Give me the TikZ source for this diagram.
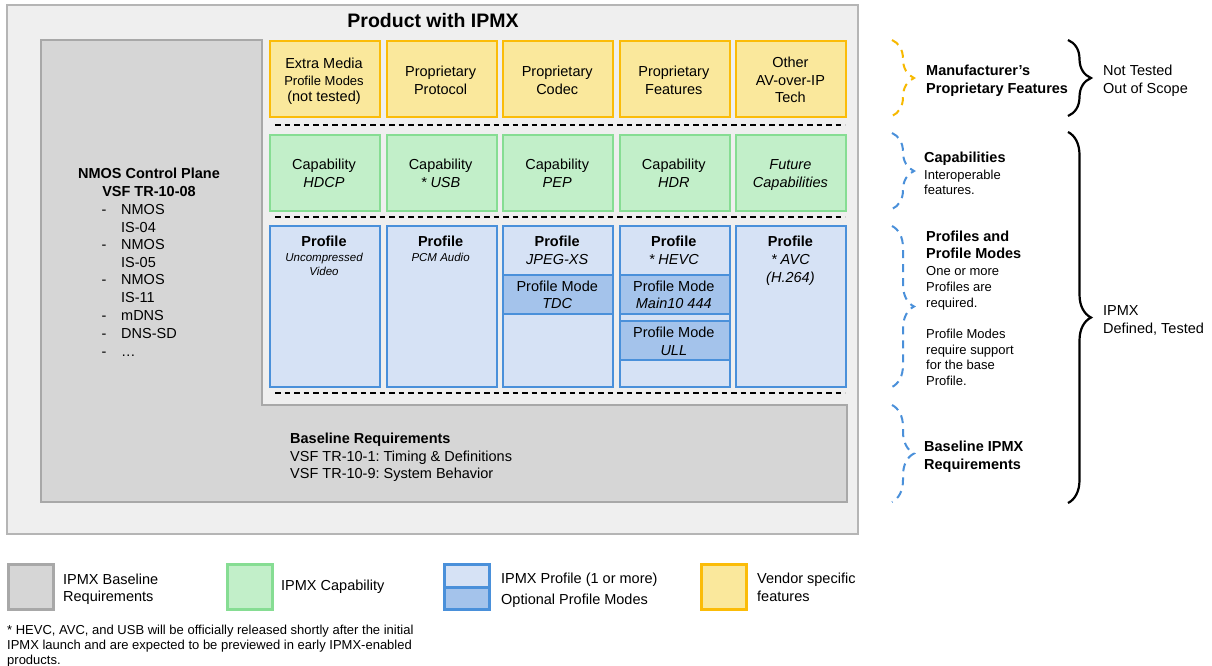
\documentclass[tikz,border=0pt]{standalone}
\usepackage{fontspec}
\setmainfont{Liberation Sans}
\usetikzlibrary{decorations.pathreplacing}
\newcommand\fsz[2]{\fontsize{#1}{#2}\selectfont}
\definecolor{outerfill}{HTML}{EFEFEF}
\definecolor{outeredge}{HTML}{B5B5B5}
\definecolor{basefill}{HTML}{D6D6D6}
\definecolor{baseedge}{HTML}{A8A8A8}
\definecolor{vendfill}{HTML}{FAE89C}
\definecolor{vendedge}{HTML}{FBBC08}
\definecolor{capfill}{HTML}{C2EFC9}
\definecolor{capedge}{HTML}{86DD93}
\definecolor{proffill}{HTML}{D6E2F5}
\definecolor{profedge}{HTML}{4A90DA}
\definecolor{modefill}{HTML}{A4C3EB}
\definecolor{bracegold}{HTML}{F7B900}
\definecolor{braceblue}{HTML}{4A90DA}
\frenchspacing
\begin{document}
\begin{tikzpicture}[x=1pt,y=-1pt,
  font=\fsz{14.5}{17.5},
  t/.style={anchor=mid,inner sep=0pt,yshift=-3.5pt},
  tl/.style={anchor=mid west,inner sep=0pt,yshift=-3.5pt},
  bt/.style={t,font=\fsz{14.5}{17.5}\bfseries},
  it/.style={t,font=\fsz{14.5}{17.5}\itshape},
  small/.style={t,font=\fsz{11.5}{14}\itshape},
  head/.style={tl,font=\fsz{14.5}{17.5}\bfseries},
  desc/.style={tl,font=\fsz{13}{15}},
  cell/.style={draw,line width=2pt,anchor=north west,inner sep=0pt,minimum width=110pt},
  vendor/.style={cell,fill=vendfill,draw=vendedge,minimum height=76pt},
  capab/.style={cell,fill=capfill,draw=capedge,minimum height=76pt},
  profile/.style={cell,fill=proffill,draw=profedge,minimum height=161pt},
  pmode/.style={cell,fill=modefill,draw=profedge,minimum height=39pt},
  sep/.style={line width=1.8pt,dash pattern=on 5.5pt off 4pt},
  dbrace/.style={line width=2pt,dash pattern=on 8pt off 6pt,decorate,decoration={brace,amplitude=22pt}},
  kbrace/.style={line width=2.2pt,decorate,decoration={brace,amplitude=23pt}},
  legbox/.style={draw,line width=2.5pt,anchor=north west,inner sep=0pt,minimum width=45pt,minimum height=45pt},
]
\fill[white] (0,0) rectangle (1212,665);
\useasboundingbox (0,0) rectangle (1212,665);

% product frame and title
\draw[fill=outerfill,draw=outeredge,line width=2pt] (7,5) rectangle (858,534);
\node[t,font=\fsz{19.5}{22}\bfseries] (title) at (433,21) {Product with IPMX};

% baseline region (control plane column + baseline bar)
\draw[fill=basefill,draw=baseedge,line width=2pt]
  (41,40) -- (262,40) -- (262,405) -- (847,405) -- (847,502) -- (41,502) -- cycle;

\node[bt] (nmosA) at (149,172) {NMOS Control Plane};
\node[bt] (nmosB) at (149,190) {VSF TR-10-08};
\foreach \txt/\y/\d [count=\k] in {NMOS/208/1,IS-04/226/0,NMOS/243/1,IS-05/261/0,NMOS/278/1,IS-11/296/0,mDNS/314/1,DNS-SD/332/1,…/350/1}{
  \node[tl] (item\k) at (121,\y) {\txt};
  \ifnum\d=1 \node[t] (dash\k) at (104,\y) {-};\fi
}

\node[head] (baseA) at (290,437) {Baseline Requirements};
\node[tl] (baseB) at (290,455) {VSF TR-10-1: Timing \& Definitions};
\node[tl] (baseC) at (290,472) {VSF TR-10-9: System Behavior};

% vendor specific row
\foreach \i in {0,...,4} \node[vendor] (v\i) at (269+116.6*\i,40) {};
\node[t] (v0a) at (324,62) {Extra Media};
\node[t,font=\fsz{13}{15}] (v0b) at (324,79) {Profile Modes};
\node[t] (v0c) at (324,95) {(not tested)};
\node[t] (v1a) at (440.6,70) {Proprietary};
\node[t] (v1b) at (440.6,88) {Protocol};
\node[t] (v2a) at (557.2,70) {Proprietary};
\node[t] (v2b) at (557.2,88) {Codec};
\node[t] (v3a) at (673.8,70) {Proprietary};
\node[t] (v3b) at (673.8,88) {Features};
\node[t] (v4a) at (790.4,61) {Other};
\node[t] (v4b) at (790.4,79) {AV-over-IP};
\node[t] (v4c) at (790.4,96) {Tech};

% capability row
\foreach \i in {0,...,4} \node[capab] (c\i) at (269+116.6*\i,134) {};
\foreach \i/\w in {0/HDCP,1/* USB,2/PEP,3/HDR}{
  \node[t] (c\i a) at (324+116.6*\i,163) {Capability};
  \node[it] (c\i b) at (324+116.6*\i,181) {\w};
}
\node[it] (c4a) at (790.4,163) {Future};
\node[it] (c4b) at (790.4,181) {Capabilities};

% profile row
\foreach \i in {0,...,4}{
  \node[profile] (p\i) at (269+116.6*\i,225) {};
  \node[bt] (p\i h) at (324+116.6*\i,240) {Profile};
}
\node[small] (p0a) at (324,255) {Uncompressed};
\node[small] (p0b) at (324,269) {Video};
\node[small] (p1a) at (440.6,255) {PCM Audio};
\node[it] (p2a) at (557.2,258) {JPEG-XS};
\node[it] (p3a) at (673.8,258) {* HEVC};
\node[it] (p4a) at (790.4,258) {* AVC};
\node[it] (p4b) at (790.4,276) {(H.264)};

% optional profile modes
\node[pmode] (m1) at (502.2,274) {};
\node[t] (m1a) at (557.2,285) {Profile Mode};
\node[it] (m1b) at (557.2,302) {TDC};
\node[pmode] (m2) at (618.8,274) {};
\node[t] (m2a) at (673.8,285) {Profile Mode};
\node[it] (m2b) at (673.8,302) {Main10 444};
\node[pmode] (m3) at (618.8,320) {};
\node[t] (m3a) at (673.8,331) {Profile Mode};
\node[it] (m3b) at (673.8,349) {ULL};

% row separators
\foreach \y in {125,217,393} \draw[sep] (275,\y) -- (845,\y);

% scope braces on the right
\coordinate (gA) at (892,40);  \coordinate (gB) at (892,116);
\coordinate (bA) at (892,133); \coordinate (bB) at (892,209);
\coordinate (bC) at (892,226); \coordinate (bD) at (892,387);
\coordinate (bE) at (892,405); \coordinate (bF) at (892,502);
\coordinate (kA) at (1068,40); \coordinate (kB) at (1068,116);
\coordinate (kC) at (1068,132); \coordinate (kD) at (1068,503);
\draw[dbrace,draw=bracegold] (gA) -- (gB);
\draw[dbrace,draw=braceblue] (bA) -- (bB);
\draw[dbrace,draw=braceblue] (bC) -- (bD);
\draw[dbrace,draw=braceblue] (bE) -- (bF);
\draw[kbrace] (kA) -- (kB);
\draw[kbrace] (kC) -- (kD);

\node[head] (mfA) at (926,69) {Manufacturer’s};
\node[head] (mfB) at (926,87) {Proprietary Features};
\node[tl] (ntA) at (1103,69) {Not Tested};
\node[tl] (ntB) at (1103,87) {Out of Scope};

\node[head] (cpA) at (924,156) {Capabilities};
\node[desc] (cpB) at (924,173) {Interoperable};
\node[desc] (cpC) at (924,188) {features.};

\node[head] (prA) at (926,235) {Profiles and};
\node[head] (prB) at (926,252) {Profile Modes};
\foreach \txt/\y [count=\k] in {One or more/269,Profiles are/285,required./301,Profile Modes/332,require support/348,for the base/363,Profile./379}
  \node[desc] (prd\k) at (926,\y) {\txt};

\node[head] (blA) at (924,445) {Baseline IPMX};
\node[head] (blB) at (924,463) {Requirements};

\node[tl] (dtA) at (1103,309) {IPMX};
\node[tl] (dtB) at (1103,327) {Defined, Tested};

% legend
\node[legbox,fill=basefill,draw=baseedge] (lg1) at (7,563) {};
\node[tl] (lg1a) at (63,578) {IPMX Baseline};
\node[tl] (lg1b) at (63,595) {Requirements};
\node[legbox,fill=capfill,draw=capedge] (lg2) at (226,563) {};
\node[tl] (lg2a) at (281,584) {IPMX Capability};
\node[legbox,fill=proffill,draw=profedge,minimum height=23pt] (lg3) at (443,563) {};
\node[legbox,fill=modefill,draw=profedge,minimum height=22pt] (lg4) at (443,586) {};
\node[tl] (lg3a) at (501,577) {IPMX Profile (1 or more)};
\node[tl] (lg4a) at (501,598) {Optional Profile Modes};
\node[legbox,fill=vendfill,draw=vendedge] (lg5) at (700,563) {};
\node[tl] (lg5a) at (757,577) {Vendor specific};
\node[tl] (lg5b) at (757,595) {features};

% footnote
\node[desc] (fnA) at (7,628) {* HEVC, AVC, and USB will be officially released shortly after the initial};
\node[desc] (fnB) at (7,643) {IPMX launch and are expected to be previewed in early IPMX-enabled};
\node[desc] (fnC) at (7,658) {products.};
\end{tikzpicture}
\end{document}
